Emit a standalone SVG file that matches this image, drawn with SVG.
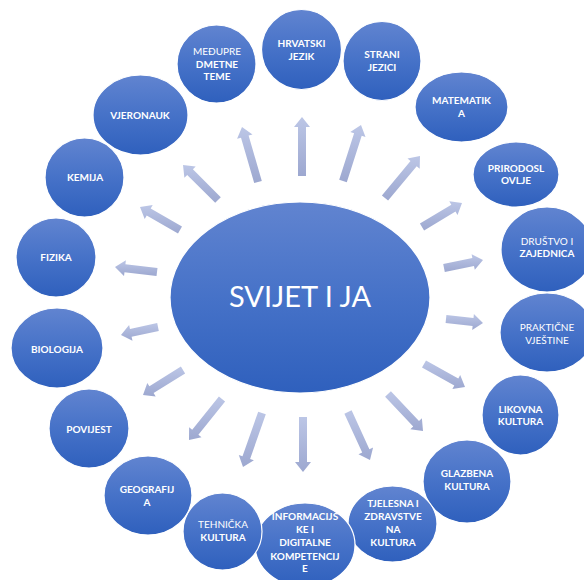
<svg xmlns="http://www.w3.org/2000/svg" width="584" height="580" viewBox="0 0 584 580">
<defs>
<linearGradient id="gNode" x1="0" y1="0" x2="0" y2="1">
<stop offset="0" stop-color="#6184d0"/>
<stop offset="0.5" stop-color="#4672c8"/>
<stop offset="1" stop-color="#2f60bd"/>
</linearGradient>
<linearGradient id="gArrow" x1="0" y1="0" x2="0" y2="1">
<stop offset="0" stop-color="#bcc6e6"/>
<stop offset="1" stop-color="#9da8d0"/>
</linearGradient>
</defs>
<style>
.node{fill:url(#gNode);stroke:#ffffff;stroke-width:1.2}
.arr{fill:url(#gArrow)}
.t{font-family:Lato,"Liberation Sans",sans-serif;font-size:10px;font-weight:bold;fill:#ffffff;text-anchor:middle}
.n{font-weight:normal}
.c{font-family:Lato,"Liberation Sans",sans-serif;font-size:29px;fill:#ffffff;text-anchor:middle}
</style>
<rect width="584" height="580" fill="#ffffff"/>
<g id="connectors">
<polygon class="arr" points="220.8,197.2 192.9,169.2 195.7,166.4 183,165 184.4,177.7 187.2,174.9 215.2,202.8"/>
<polygon class="arr" points="261.8,180.9 248.6,135.5 252.5,134.4 242,127 237.1,138.8 241.0,137.7 254.2,183.1"/>
<polygon class="arr" points="306,176 306,127 310,127 302,117 294,127 298,127 298,176"/>
<polygon class="arr" points="346.8,182.2 361.7,135.7 365.5,137.0 361,125 350.3,132.1 354.1,133.3 339.2,179.8"/>
<polygon class="arr" points="388.1,200.6 416.7,166.3 419.7,168.8 420,156 407.5,158.6 410.5,161.1 381.9,195.4"/>
<polygon class="arr" points="424.1,230.4 455.5,211.6 457.5,215.0 462,203 449.3,201.3 451.3,204.7 419.9,223.6"/>
<polygon class="arr" points="444.8,271.9 474.0,265.9 474.8,269.8 483,260 471.6,254.2 472.4,258.1 443.2,264.1"/>
<polygon class="arr" points="445.6,323.0 472.6,325.9 472.2,329.9 483,323 473.9,313.9 473.5,317.9 446.4,315.0"/>
<polygon class="arr" points="422.0,367.5 454.3,385.6 452.4,389.1 465,387 460.2,375.1 458.3,378.6 426.0,360.5"/>
<polygon class="arr" points="385.1,396.7 413.2,426.5 410.3,429.2 423,431 421.9,418.2 419.0,421.0 390.9,391.3"/>
<polygon class="arr" points="344.4,413.7 362.2,452.6 358.5,454.2 370,460 373.1,447.6 369.4,449.2 351.6,410.3"/>
<polygon class="arr" points="299,417 299,462 295,462 303,472 311,462 307,462 307,417"/>
<polygon class="arr" points="258.2,411.7 242.5,456.2 238.8,454.9 243,467 253.9,460.2 250.1,458.9 265.8,414.3"/>
<polygon class="arr" points="218.9,396.5 192.2,429.7 189.1,427.2 189,440 201.5,437.2 198.4,434.7 225.1,401.5"/>
<polygon class="arr" points="180.9,366.6 149.4,386.3 147.3,382.9 143,395 155.7,396.5 153.6,393.1 185.1,373.4"/>
<polygon class="arr" points="157.2,323.1 130.0,329.0 129.1,325.1 121,335 132.5,340.7 131.6,336.8 158.8,330.9"/>
<polygon class="arr" points="157.5,268.0 125.4,264.2 125.9,260.3 115,267 124.0,276.1 124.5,272.2 156.5,276.0"/>
<polygon class="arr" points="182.0,226.5 150.7,208.5 152.7,205.1 140,207 144.7,218.9 146.7,215.5 178.0,233.5"/>
</g>
<g id="center">
<ellipse class="node" cx="300" cy="297.5" rx="130" ry="95.5"/>
<text class="c" x="300" y="307">SVIJET I JA</text>
</g>
<g id="hrvatski">
<ellipse class="node" cx="301.5" cy="49.5" rx="40" ry="40"/>
<text class="t" x="301.5" y="47">HRVATSKI</text>
<text class="t" x="301.5" y="60">JEZIK</text>
</g>
<g id="strani">
<ellipse class="node" cx="382" cy="61" rx="39" ry="39.5"/>
<text class="t" x="382" y="58">STRANI</text>
<text class="t" x="382" y="71">JEZICI</text>
</g>
<g id="matematika">
<ellipse class="node" cx="461.5" cy="107" rx="46.5" ry="35"/>
<text class="t" x="461.5" y="104">MATEMATIK</text>
<text class="t" x="461.5" y="117">A</text>
</g>
<g id="prirodoslovlje">
<ellipse class="node" cx="516" cy="174.5" rx="43" ry="32.5"/>
<text class="t" x="516" y="172">PRIRODOSL</text>
<text class="t" x="516" y="184">OVLJE</text>
</g>
<g id="drustvo">
<ellipse class="node" cx="547" cy="249.5" rx="46" ry="42.5"/>
<text class="t n" x="547" y="245">DRUŠTVO I</text>
<text class="t" x="547" y="257">ZAJEDNICA</text>
</g>
<g id="prakticne">
<ellipse class="node" cx="547" cy="332.5" rx="47" ry="39.5"/>
<text class="t n" x="547" y="331">PRAKTIČNE</text>
<text class="t n" x="547" y="344">VJEŠTINE</text>
</g>
<g id="likovna">
<ellipse class="node" cx="520.5" cy="415" rx="38.5" ry="40"/>
<text class="t" x="520.5" y="413">LIKOVNA</text>
<text class="t" x="520.5" y="425">KULTURA</text>
</g>
<g id="glazbena">
<ellipse class="node" cx="467" cy="481.5" rx="44" ry="41.5"/>
<text class="t" x="467" y="477">GLAZBENA</text>
<text class="t" x="467" y="490">KULTURA</text>
</g>
<g id="tjelesna">
<ellipse class="node" cx="392.5" cy="524" rx="44.5" ry="38"/>
<text class="t" x="393" y="507">TJELESNA I</text>
<text class="t" x="393" y="520">ZDRAVSTVE</text>
<text class="t" x="393" y="533">NA</text>
<text class="t" x="393" y="546">KULTURA</text>
</g>
<g id="informacijske">
<ellipse class="node" cx="305" cy="545" rx="50" ry="42"/>
<text class="t" x="305" y="520">INFORMACIJS</text>
<text class="t" x="305" y="533">KE I</text>
<text class="t" x="305" y="546">DIGITALNE</text>
<text class="t" x="305" y="560">KOMPETENCIJ</text>
<text class="t" x="305" y="572">E</text>
</g>
<g id="tehnicka">
<ellipse class="node" cx="222.5" cy="531.5" rx="39.5" ry="38.5"/>
<text class="t n" x="223" y="528">TEHNIČKA</text>
<text class="t" x="223" y="541">KULTURA</text>
</g>
<g id="geografija">
<ellipse class="node" cx="148" cy="495.5" rx="44" ry="39.5"/>
<text class="t" x="147" y="493">GEOGRAFIJ</text>
<text class="t" x="147" y="506">A</text>
</g>
<g id="povijest">
<ellipse class="node" cx="89" cy="428.5" rx="40" ry="39.5"/>
<text class="t" x="89" y="433">POVIJEST</text>
</g>
<g id="biologija">
<ellipse class="node" cx="57" cy="348" rx="46" ry="40"/>
<text class="t" x="57" y="353">BIOLOGIJA</text>
</g>
<g id="fizika">
<ellipse class="node" cx="56" cy="257.5" rx="40" ry="39.5"/>
<text class="t" x="56" y="261">FIZIKA</text>
</g>
<g id="kemija">
<ellipse class="node" cx="84.5" cy="177.5" rx="39.5" ry="39.5"/>
<text class="t" x="85" y="181">KEMIJA</text>
</g>
<g id="vjeronauk">
<ellipse class="node" cx="140.5" cy="115" rx="47.5" ry="40"/>
<text class="t" x="140" y="119">VJERONAUK</text>
</g>
<g id="medupredmetne">
<ellipse class="node" cx="216.5" cy="64" rx="39.5" ry="39"/>
<text class="t n" x="217" y="55">MEĐUPRE</text>
<text class="t" x="217" y="68">DMETNE</text>
<text class="t" x="217" y="80">TEME</text>
</g>
</svg>
